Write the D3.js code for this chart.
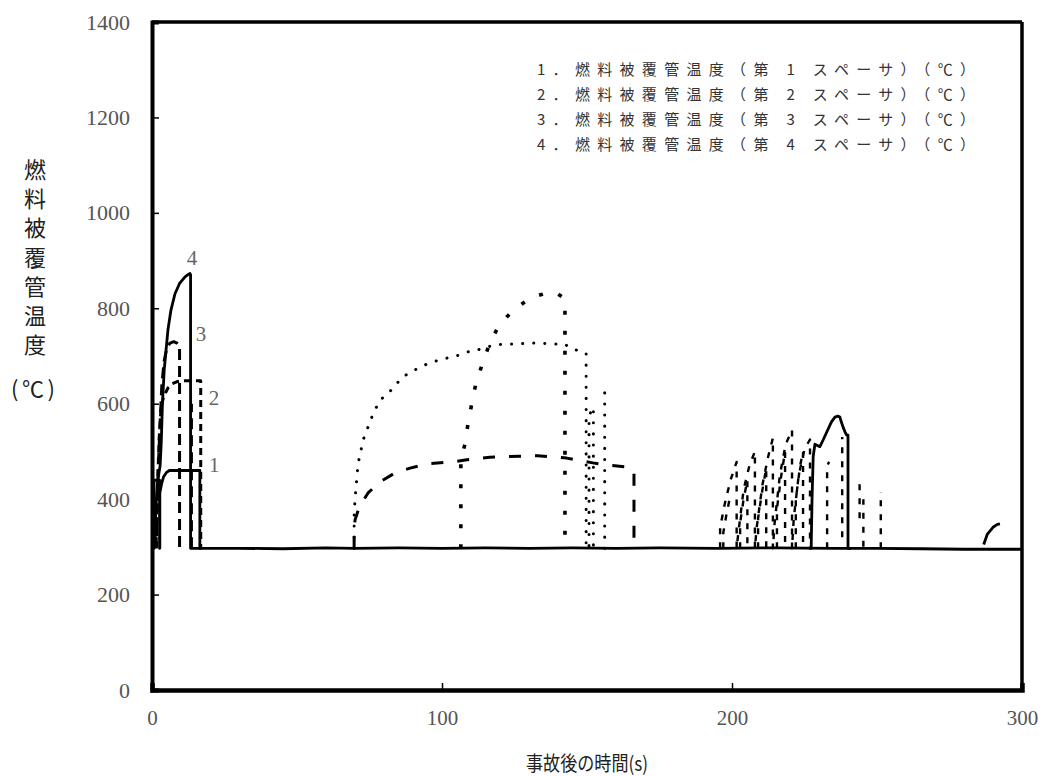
<!DOCTYPE html>
<html><head><meta charset="utf-8">
<script src="https://cdn.jsdelivr.net/npm/d3@7"></script>
<style>body{margin:0;background:#fff}</style>
</head><body><svg id="c" width="1044" height="776"></svg>
<script>
// ---------- data ----------
const xTicks = [0, 100, 200, 300];
const yTicks = [0, 200, 400, 600, 800, 1000, 1200, 1400];
const legendLabels = [
  "1．燃料被覆管温度（第 1 スペーサ）（℃）",
  "2．燃料被覆管温度（第 2 スペーサ）（℃）",
  "3．燃料被覆管温度（第 3 スペーサ）（℃）",
  "4．燃料被覆管温度（第 4 スペーサ）（℃）"
];
const yTitleChars = ["燃", "料", "被", "覆", "管", "温", "度"];
const yUnit = "(℃)";
const xTitle = "事故後の時間(s)";
const curveLabels = ["1", "2", "3", "4"];
const curveLabelAt = [[21.5, 472], [21.4, 612], [16.9, 746], [13.8, 905]]; // [time, temperature]

// series 1 (spacer 1)
const s1 = [[0,297],[0.7,297],[0.7,440],[2.6,440],[2.6,297],[2.7,297],[2.7,413],[3.3,432],[4,447],[5,456],[6,460],[16.5,460],[16.5,297],
  [30,297],[45,296],[60,298],[69.7,297],[85,298],[100,297],[115,298],[130,297],[145,298],[160,297],[175,298],[195,297],[215,298],
  [235,297],[250,297],[265,296],[280,295],[300,295]];
// series 2 (spacer 2)
const s2a = [[1.5,297],[1.9,420],[2.4,520],[3.1,590],[4,615],[5.5,633],[7,642],[8.5,646],[10,648],[16.8,648],[16.8,297]];
const s2b = [[69.7,297],[69.7,371],[70.2,413],[71.1,475],[72.8,524],[74.5,551],[76.3,580],[78.6,607],[82.6,629],[85.5,650],[88.4,664],
  [94.7,683],[98.2,690],[102,696],[106,702],[110,711],[114,715],[117.7,723],[121.7,725],[125.8,725],[129.7,727],[133.8,727],
  [138.3,725],[142.4,725],[144,717],[149.7,706],[149.7,297],[150.7,297],[150.7,575],[152.2,593],[152.2,297],null,
  [156.1,297],[156.1,625]];
const s2c = [[195.9,297],[195.9,340],[197.5,390],[199.5,440],[201.6,478],[201.6,297],[202.2,330],[204,420],[206,470],[207.9,500],
  [207.9,297],[208.5,340],[210.5,430],[212.5,490],[214.1,528],[214.1,297],[214.7,350],[216.5,450],[218.5,515],[220.7,545],
  [220.7,297],[221.3,360],[223,450],[225,505],[226.9,525],[226.9,297]];
// series 3 (spacer 3)
const s3a = [[1.4,297],[1.7,380],[2.2,470],[2.8,560],[3.4,640],[4.2,690],[5.1,716],[6.2,727],[7.5,730],[8.6,727],[9.5,722],[9.5,297],null,
  [13.6,297],[13.6,600]];
const s3b = [[69.7,297],[69.7,330],[70,356],[71.5,384],[74.5,413],[78.6,436],[83.8,455],[89,465],[94.8,474],[103.4,478],[108,482],
  [116.5,488],[126.9,490],[133,491],[139.5,488],[143,486],[152,476],[158,471],[163,468],[164.8,466],[166.2,460],[166.2,297]];
const s3c = [[197,297],[197,330],[198,365],[199,395],[199.5,405],null,[202.8,297],[202.8,350],[204,400],[205.3,440],[205.3,297],null,
  [209,297],[209,360],[210.5,420],[211.8,465],[211.8,297],null,[215.5,297],[215.5,380],[217,450],[218.3,500],[218.3,297],null,
  [222,297],[222,400],[223.5,470],[224.5,500],[224.5,297],null,[232.8,297],[232.8,470],[233.5,478],null,[238,320],[238,530],null,
  [244,360],[244,430],[244.8,446],null,[245.3,300],[245.3,400],null,[251.3,297],[251.3,415]];
// series 4 (spacer 4)
const s4a = [[1,297],[1.3,380],[2,440],[2.8,470],[3.2,520],[3.6,600],[4.2,670],[5.5,755],[6.5,795],[7.9,830],[9.5,852],[11.4,866],
  [12.5,871],[13.1,873],[13.3,870],[13.3,297],[17,297]];
const s4b = [[106.5,297],[106.5,482],[108,517],[109,560],[110.3,601],[111.7,643],[114,685],[116.5,727],[119.7,765],[124.6,796],
  [130.3,821],[137,834],[140,830],[142.4,820],[142.4,297]];
const s4c = [[226.5,297],[227.3,297],[227.6,400],[228,490],[228.6,515],[230.3,510],[231.5,525],[233,545],[234.3,562],[235.5,572],
  [236.5,574],[237.2,572],[237.8,560],[238.3,551],[239,540],[239.6,534],[240,534],[240,297],[241,297],null,
  [286.8,305],[288,326],[290,341],[291.5,347],[292.4,348]];

// ---------- drawing ----------
const svg = d3.select("#c");
const x = d3.scaleLinear().domain([0, 300]).range([152, 1022]);
const y = d3.scaleLinear().domain([0, 1400]).range([690, 22]);

const styles = {
  solid:   {w: 2.8, dash: null, cap: "butt"},
  dashS:   {w: 3, dash: "7,5", cap: "butt"},
  dashL:   {w: 3, dash: "11,6", cap: "butt"},
  dotF:    {w: 3, dash: "0.1,11", cap: "round"},
  dotB:    {w: 3.6, dash: "4,16", cap: "butt"},
  dashM:   {w: 3, dash: "12,14", cap: "butt"},
  dashLate:{w: 2.4, dash: "6,8", cap: "butt"}
};
const traces = [
  {d: s1, s: "solid"}, {d: s2a, s: "dashS"}, {d: s3a, s: "dashL"}, {d: s4a, s: "solid"},
  {d: s2b, s: "dotF"}, {d: s3b, s: "dashM"}, {d: s4b, s: "dotB"},
  {d: s2c, s: "dashLate"}, {d: s3c, s: "dashLate"}, {d: s4c, s: "solid"}
];
const line = d3.line().defined(d => d != null).x(d => x(d[0])).y(d => y(d[1]));

traces.forEach(t => {
  const st = styles[t.s];
  svg.append("path").datum(t.d).attr("d", line)
    .attr("fill", "none").attr("stroke", "#000")
    .attr("stroke-width", st.w).attr("stroke-linecap", st.cap).attr("stroke-linejoin", "round")
    .attr("stroke-dasharray", st.dash);
});

// frame
svg.append("line").attr("x1", 152).attr("x2", 1022).attr("y1", 22).attr("y2", 22).attr("stroke", "#000").attr("stroke-width", 3.5);
svg.append("line").attr("x1", 1022).attr("x2", 1022).attr("y1", 22).attr("y2", 690).attr("stroke", "#000").attr("stroke-width", 3.5);
// axes
const yAxis = d3.axisLeft(y).tickValues(yTicks).tickSize(-7).tickPadding(22).tickFormat(d3.format("d"));
const gy = svg.append("g").attr("transform", "translate(152,0)").call(yAxis);
gy.select(".domain").attr("stroke-width", 4);
gy.selectAll(".tick line").attr("stroke-width", 1.5);
gy.selectAll("text").attr("font-family", "Liberation Serif").attr("font-size", 22).attr("fill", "#555");

const xAxis = d3.axisBottom(x).tickValues(xTicks).tickSize(-7).tickPadding(20).tickFormat(d3.format("d"));
const gx = svg.append("g").attr("transform", "translate(0,690)").call(xAxis);
gx.select(".domain").attr("stroke-width", 4.5);
gx.selectAll(".tick line").attr("stroke-width", 1.5).attr("opacity", (d) => (d === 0 || d === 300) ? 0 : 1);
gx.selectAll("text").attr("font-family", "Liberation Serif").attr("font-size", 21).attr("fill", "#555");

// curve labels
svg.selectAll(".clab").data(curveLabels).enter().append("text")
  .attr("x", (d, i) => x(curveLabelAt[i][0])).attr("y", (d, i) => y(curveLabelAt[i][1]))
  .attr("text-anchor", "middle").attr("dominant-baseline", "central")
  .attr("font-family", "Liberation Serif").attr("font-size", 21).attr("fill", "#666").text(d => d);

// legend
svg.selectAll(".leg").data(legendLabels).enter().append("text")
  .attr("x", 537).attr("y", (d, i) => 68 + i * 25).attr("dominant-baseline", "central")
  .attr("font-family", "Noto Sans CJK JP").attr("font-size", 15).attr("fill", "#333")
  .attr("textLength", 438).attr("lengthAdjust", "spacing").text(d => d);

// y title
svg.selectAll(".yt").data(yTitleChars).enter().append("text")
  .attr("x", 35).attr("y", (d, i) => 168 + i * 29.2).attr("text-anchor", "middle").attr("dominant-baseline", "central")
  .attr("font-family", "Noto Sans CJK JP").attr("font-size", 22).attr("fill", "#222").text(d => d);
svg.append("text").attr("x", 11).attr("y", 387).attr("dominant-baseline", "central")
  .attr("font-family", "Noto Sans CJK JP").attr("font-size", 22).attr("fill", "#222")
  .attr("textLength", 44).attr("lengthAdjust", "spacing").text(yUnit);

// x title
svg.append("text").attr("x", 587).attr("y", 762).attr("text-anchor", "middle").attr("dominant-baseline", "central")
  .attr("font-family", "Noto Sans CJK JP").attr("font-size", 20).attr("fill", "#222")
  .attr("textLength", 122).attr("lengthAdjust", "spacingAndGlyphs").text(xTitle);
</script></body></html>
